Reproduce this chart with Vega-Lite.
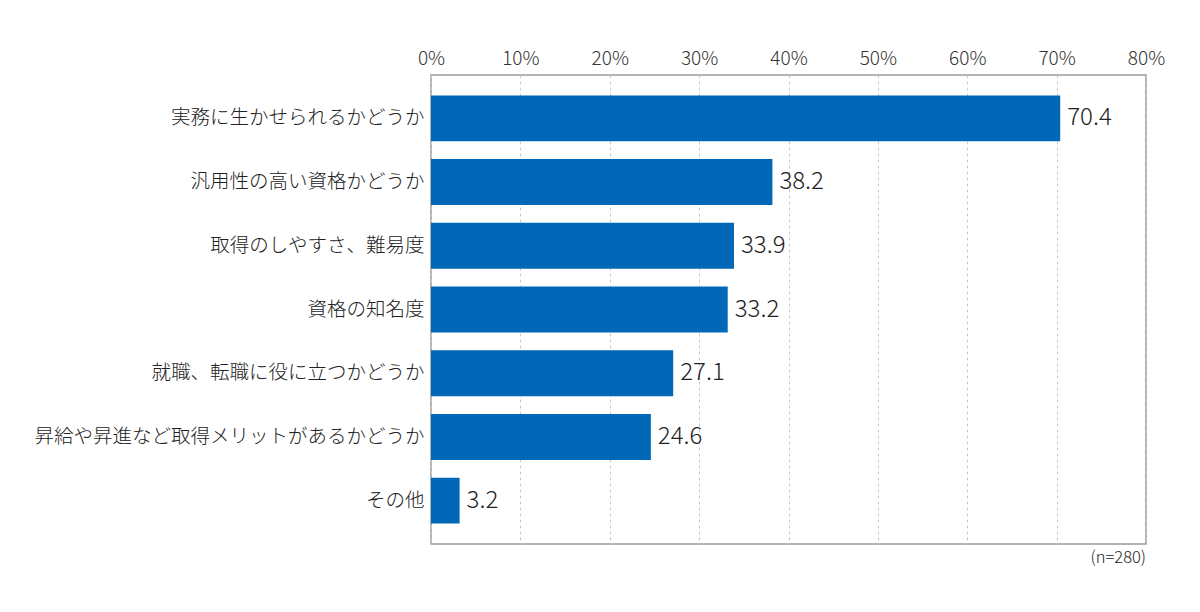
{
  "$schema": "https://vega.github.io/schema/vega-lite/v6.json",
  "autosize": "none",
  "padding": {"left": 431, "top": 75, "right": 54, "bottom": 68},
  "width": 715,
  "height": 469,
  "background": "#ffffff",
  "data": {
    "values": [
      {"item": "実務に生かせられるかどうか", "pct": 70.4},
      {"item": "汎用性の高い資格かどうか", "pct": 38.2},
      {"item": "取得のしやすさ、難易度", "pct": 33.9},
      {"item": "資格の知名度", "pct": 33.2},
      {"item": "就職、転職に役に立つかどうか", "pct": 27.1},
      {"item": "昇給や昇進など取得メリットがあるかどうか", "pct": 24.6},
      {"item": "その他", "pct": 3.2}
    ]
  },
  "title": {
    "text": "(n=280)",
    "orient": "bottom",
    "anchor": "end",
    "frame": "group",
    "font": "Noto Sans CJK JP",
    "fontSize": 16.5,
    "fontWeight": 300,
    "color": "#222222",
    "offset": 6
  },
  "config": {
    "view": {"stroke": "#9a9a9a", "strokeWidth": 1.5},
    "font": "Noto Sans CJK JP"
  },
  "encoding": {
    "y": {
      "field": "item",
      "type": "nominal",
      "sort": null,
      "title": null,
      "scale": {"paddingInner": 0.28, "paddingOuter": 0.32},
      "axis": {
        "domain": false,
        "ticks": false,
        "labelFontSize": 19.5,
        "labelFontWeight": 300,
        "labelColor": "#222222",
        "labelPadding": 7,
        "labelLimit": 500
      }
    },
    "x": {
      "field": "pct",
      "type": "quantitative",
      "title": null,
      "scale": {"domain": [0, 80]},
      "axis": {
        "orient": "top",
        "values": [0, 10, 20, 30, 40, 50, 60, 70, 80],
        "labelExpr": "datum.value + '%'",
        "labelFlush": false,
        "domain": false,
        "ticks": false,
        "labelFontSize": 19,
        "labelFontWeight": 300,
        "labelColor": "#333333",
        "labelPadding": 7,
        "grid": true,
        "gridColor": "#c8c8c8",
        "gridDash": [3, 3],
        "gridWidth": 1
      }
    }
  },
  "layer": [
    {
      "mark": {"type": "bar", "color": "#0068b6"}
    },
    {
      "mark": {
        "type": "text",
        "align": "left",
        "baseline": "middle",
        "dx": 7,
        "fontSize": 24,
        "fontWeight": 300,
        "color": "#222222"
      },
      "encoding": {
        "text": {"field": "pct", "type": "quantitative", "format": ".1f"}
      }
    }
  ]
}
